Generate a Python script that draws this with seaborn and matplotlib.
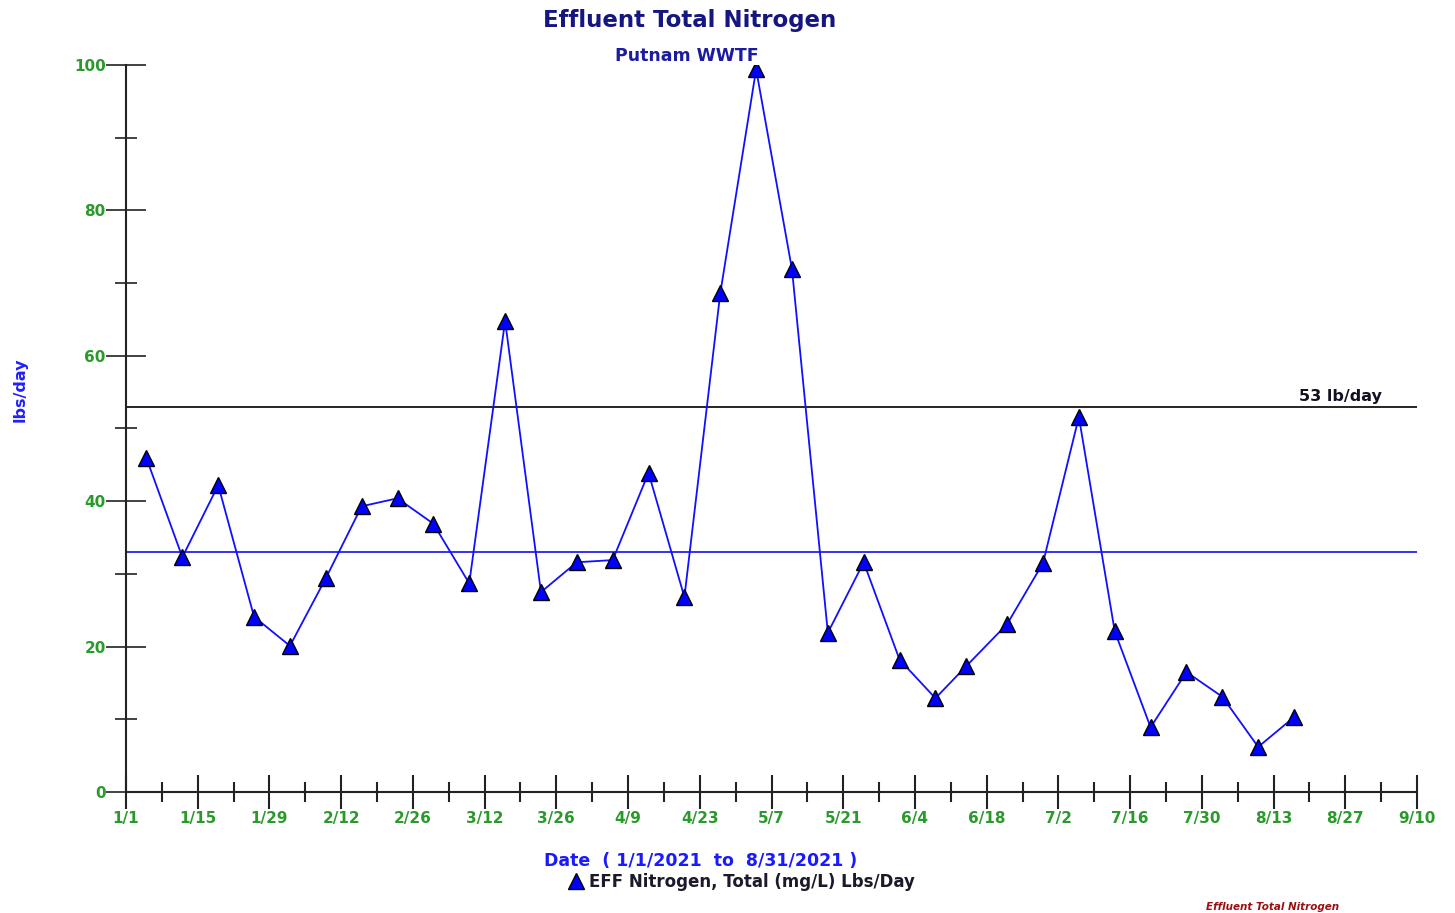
import pandas as pd
import matplotlib
matplotlib.use("Agg")
import matplotlib.pyplot as plt
import matplotlib.ticker as mticker
import matplotlib.dates as mdates
import seaborn as sns

# sample dates and effluent nitrogen load (lbs/day)
dates = ["2021-01-05", "2021-01-12", "2021-01-19", "2021-01-26", "2021-02-02",
         "2021-02-09", "2021-02-16", "2021-02-23", "2021-03-02", "2021-03-09",
         "2021-03-16", "2021-03-23", "2021-03-30", "2021-04-06", "2021-04-13",
         "2021-04-20", "2021-04-27", "2021-05-04", "2021-05-11", "2021-05-18",
         "2021-05-25", "2021-06-01", "2021-06-08", "2021-06-14", "2021-06-22",
         "2021-06-29", "2021-07-06", "2021-07-13", "2021-07-20", "2021-07-27",
         "2021-08-03", "2021-08-10", "2021-08-17"]
lbs_day = [45.9, 32.3, 42.2, 24.1, 20.1, 29.4, 39.3, 40.4, 36.9, 28.7,
           64.8, 27.5, 31.6, 31.9, 43.9, 26.8, 68.6, 99.4, 71.9, 21.9,
           31.6, 18.2, 12.9, 17.3, 23.1, 31.5, 51.6, 22.1, 8.9, 16.5,
           13.1, 6.2, 10.3]
limit_value = 53
avg_value = 33

df = pd.DataFrame({"Date": pd.to_datetime(dates), "lbs": lbs_day})

sns.set_theme(style="white")
plt.rcParams['font.family'] = ['DejaVu Sans']

fig = plt.figure(figsize=(14.55, 9.13), dpi=100)
ax = fig.add_axes([126 / 1455, 1 - 792 / 913, (1417 - 126) / 1455, (792 - 65) / 913])

x0 = pd.Timestamp("2021-01-01")
x1 = pd.Timestamp("2021-09-10")

ax.axhline(limit_value, color="black", lw=1.2, zorder=1)
ax.axhline(avg_value, color="#1010ee", lw=1.2, zorder=1)

sns.lineplot(data=df, x="Date", y="lbs", ax=ax, color="#1010ff", lw=1.3,
             marker="^", markersize=12, markerfacecolor="#0000ff",
             markeredgecolor="black", markeredgewidth=1.0, zorder=3,
             label="EFF Nitrogen, Total (mg/L) Lbs/Day")

ax.set_xlim(x0, x1)
ax.set_ylim(0, 100)

for s in ["top", "right"]:
    ax.spines[s].set_visible(False)
for s in ["left", "bottom"]:
    ax.spines[s].set_color("#222222")
    ax.spines[s].set_linewidth(1.5)

green = "#2a9a2a"
major = pd.date_range(x0, x1, freq="14D")
minor = pd.date_range(x0 + pd.Timedelta(days=7), x1, freq="14D")
ax.xaxis.set_major_locator(mticker.FixedLocator(mdates.date2num(major)))
ax.xaxis.set_minor_locator(mticker.FixedLocator(mdates.date2num(minor)))
ax.set_xticklabels([f"{d.month}/{d.day}" for d in major])
ax.yaxis.set_major_locator(mticker.MultipleLocator(20))
ax.yaxis.set_minor_locator(mticker.MultipleLocator(10))

ax.tick_params(axis="x", which="major", direction="inout", length=24, width=1.5,
               color="#222222", labelcolor=green, labelsize=11, pad=2, bottom=True)
ax.tick_params(axis="x", which="minor", direction="inout", length=14, width=1.5,
               color="#222222", bottom=True)
ax.tick_params(axis="y", which="major", direction="inout", length=29, width=1.2,
               color="#222222", labelcolor=green, labelsize=11, pad=0, left=True)
ax.tick_params(axis="y", which="minor", direction="inout", length=16, width=1.2,
               color="#222222", left=True)
for lab in ax.get_xticklabels() + ax.get_yticklabels():
    lab.set_fontweight("bold")

ax.set_xlabel("")
ax.set_ylabel("")
ax.text(pd.Timestamp("2021-08-26"), limit_value + 0.4, "53 lb/day", ha="center",
        va="bottom", fontsize=11.5, color="#111122", fontweight="bold")

fig.text(690 / 1455, 1 - 20 / 913, "Effluent Total Nitrogen", ha="center", va="center",
         fontsize=16.5, fontweight="bold", color="#161680")
fig.text(687 / 1455, 1 - 56 / 913, "Putnam WWTF", ha="center", va="center",
         fontsize=12.5, fontweight="bold", color="#1c1ca0")
fig.text(20 / 1455, 1 - 390 / 913, "lbs/day", ha="center", va="center", rotation=90,
         fontsize=11.5, fontweight="bold", color="#2020ff")
fig.text(701 / 1455, 1 - 861 / 913, "Date  ( 1/1/2021  to  8/31/2021 )", ha="center",
         va="center", fontsize=12.5, fontweight="bold", color="#1a1aff")
fig.text(1273 / 1455, 1 - 907 / 913, "Effluent Total Nitrogen", ha="center", va="center",
         fontsize=7.5, fontweight="bold", fontstyle="italic", color="#9a1010")

leg = ax.legend(loc="center", bbox_to_anchor=(742 / 1455, 1 - 882 / 913),
                bbox_transform=fig.transFigure, frameon=False, fontsize=12,
                handlelength=0.8, handletextpad=0.4, borderpad=0)
for h in leg.get_lines():
    h.set_linestyle("none")
for t in leg.get_texts():
    t.set_fontweight("bold")
    t.set_color("#1a1a2a")

fig.savefig("out.png", dpi=100)
